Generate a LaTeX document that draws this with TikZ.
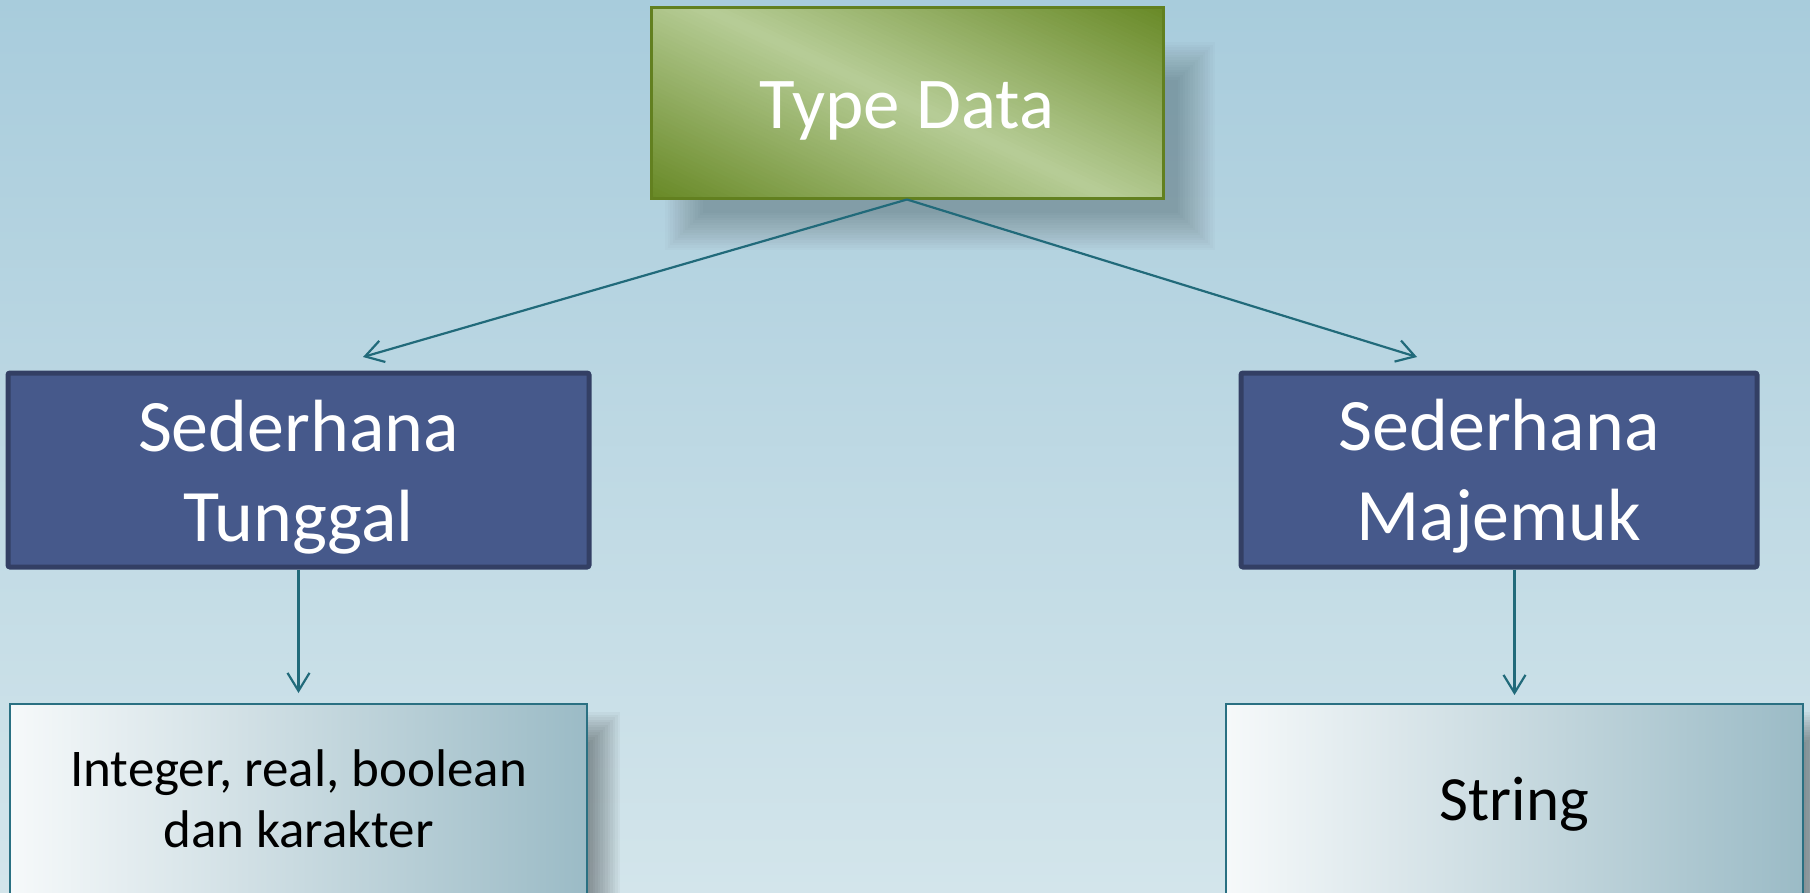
\documentclass[tikz,border=0pt]{standalone}
\usepackage{fontspec}
\setmainfont{Carlito}
\usetikzlibrary{arrows.meta}

\definecolor{bgtop}{RGB}{168,204,220}
\definecolor{bgbot}{RGB}{211,229,235}
\definecolor{oliveD}{RGB}{104,137,38}
\definecolor{oliveL}{RGB}{183,205,151}
\definecolor{oliveE}{RGB}{98,128,32}
\definecolor{navyF}{RGB}{70,89,139}
\definecolor{navyE}{RGB}{51,63,100}
\definecolor{tealA}{RGB}{33,106,122}
\definecolor{paleL}{RGB}{246,249,250}
\definecolor{paleM}{RGB}{204,221,227}
\definecolor{paleR}{RGB}{155,187,198}
\definecolor{tealE}{RGB}{42,112,130}

% soft shadow: stacked translucent rectangles, each inset a little more
% #1-#4 outer corners, #5 opacity per layer, #6 number of layers
\newcommand\blurbox[6]{%
  \foreach \k in {0,...,#6}{%
    \fill[black,fill opacity=#5] ({#1+2.5*\k},{#2+2.5*\k}) rectangle ({#3-2.5*\k},{#4-2.5*\k});
  }%
}

\begin{document}
\begin{tikzpicture}[x=1pt,y=-1pt,
  link/.style={draw=tealA, line width=2.2pt,
    -{Straight Barb[length=18pt,width=22pt]}},
  greenbox/.style={draw=oliveE, line width=3pt, inner sep=0pt,
    minimum width=512pt, minimum height=191pt},
  navybox/.style={fill=navyF, draw=navyE, line width=5pt, rounded corners=2pt,
    inner sep=0pt, minimum height=194pt},
  palebox/.style={left color=paleL, middle color=paleM, right color=paleR,
    draw=tealE, line width=2pt, inner sep=0pt,
    minimum width=577pt, minimum height=192pt},
  lbl/.style={inner sep=0pt, anchor=base},
  bigw/.style={lbl, text=white, font=\fontsize{74}{88}\selectfont},
  smallb/.style={lbl, text=black, font=\fontsize{53}{64}\selectfont}]

\useasboundingbox (0,0) rectangle (1810,892);

% background
\shade[top color=bgtop, bottom color=bgbot] (0,0) rectangle (1810,892);

% shadows
\blurbox{665}{42}{1215}{250}{0.017}{15}
\blurbox{10}{712}{620}{960}{0.03}{12}
\blurbox{1226}{712}{1836}{960}{0.03}{12}

% diagonal green gradient of the top box, built from thin slanted stripes
\begin{scope}
  \clip (651,7) rectangle (1163,198);
  \begin{scope}[shift={(907,102.5)}, rotate=-25]
    \foreach \s in {-200,-196,...,196}{%
      \pgfmathsetmacro\mixp{min(100,abs(\s+2)/195*100)}%
      \fill[oliveD!\mixp!oliveL] (-330,\s) rectangle (330,\s+4.6);
    }
  \end{scope}
\end{scope}

% boxes
\node[greenbox] (td) at (907,102.5) {};
\node[navybox, minimum width=581pt] (lm) at (298.5,470) {};
\node[navybox, minimum width=516pt] (rm) at (1499,470) {};
\node[palebox] (lb) at (298.5,800) {};
\node[palebox] (rb) at (1514.5,800) {};

% texts
\node[lbl, text=white, font=\fontsize{73}{88}\selectfont] (tdtxt) at (907,128) {Type Data};
\node[bigw] (lm1) at (298.5,451) {Sederhana};
\node[bigw] (lm2) at (298.5,541) {Tunggal};
\node[bigw] (rm1) at (1499,450) {Sederhana};
\node[bigw] (rm2) at (1499,540) {Majemuk};
\node[smallb] (lb1) at (298.5,786) {Integer, real, boolean};
\node[smallb] (lb2) at (298.5,847) {dan karakter};
\node[lbl, text=black, font=\fontsize{63}{76}\selectfont] (rbtxt) at (1514.5,820) {String};

% connectors
\coordinate (tipL) at (363,357);
\coordinate (tipR) at (1417,357);
\draw[link] (td.south) -- (tipL);
\draw[link] (td.south) -- (tipR);
\draw[link] (lm.south) -- ([yshift=10pt]lb.north);
\draw[link] (rm.south -| rb.north) -- ([yshift=8pt]rb.north);

\end{tikzpicture}
\end{document}
